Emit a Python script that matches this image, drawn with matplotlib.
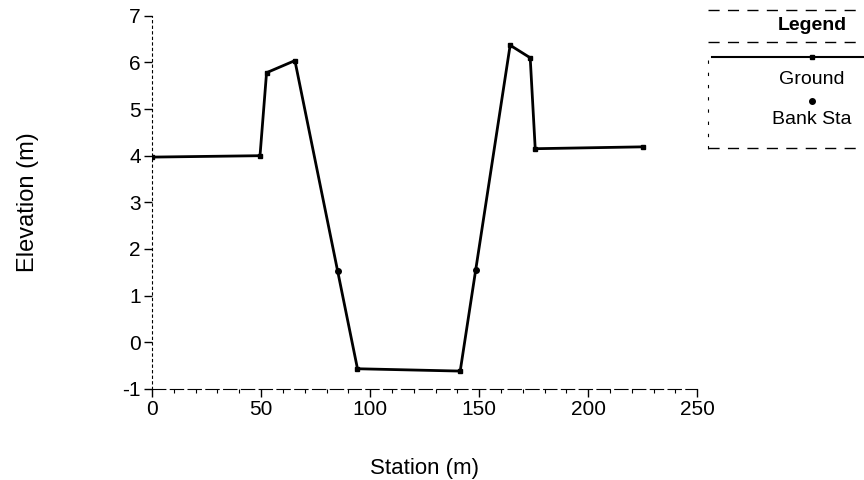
import matplotlib
matplotlib.use('Agg')
import matplotlib.pyplot as plt
from matplotlib.lines import Line2D
from matplotlib.ticker import MultipleLocator

plt.rcParams['font.family'] = ['Liberation Sans', 'DejaVu Sans']
plt.rcParams['axes.unicode_minus'] = False

# cross-section ground points (station m, elevation m)
station = [0, 49.5, 52.5, 65.5, 94.2, 141.3, 164.2, 173.4, 175.7, 225.0]
elevation = [3.97, 4.0, 5.78, 6.04, -0.57, -0.62, 6.37, 6.10, 4.15, 4.19]

# bank stations
bank_station = [85.1, 148.4]
bank_elev = [1.53, 1.55]

xticks = [0, 50, 100, 150, 200, 250]
yticks = [-1, 0, 1, 2, 3, 4, 5, 6, 7]

fig = plt.figure(figsize=(8.64, 4.8), dpi=100)
ax = fig.add_axes([0.176, 0.19, 0.631, 0.777])

ax.plot(station, elevation, color='black', linewidth=2, marker='s', markersize=3)
ax.plot(bank_station, bank_elev, linestyle='none', color='black', marker='o', markersize=4)

ax.set_xlim(0, 250)
ax.set_ylim(-1, 7)
ax.set_xticks(xticks)
ax.set_yticks(yticks)
ax.xaxis.set_minor_locator(MultipleLocator(10))
ax.tick_params(axis='both', which='major', direction='out', length=6, width=1, labelsize=15, pad=2)
ax.tick_params(axis='x', which='minor', direction='out', length=3, width=0.8)

ax.spines['top'].set_visible(False)
ax.spines['right'].set_visible(False)
ax.spines['bottom'].set_linestyle((0, (12, 4)))
ax.spines['left'].set_linestyle((0, (2, 3)))

ax.set_xlabel('Station (m)', fontsize=16, labelpad=28)
ax.set_ylabel('Elevation (m)', fontsize=17, labelpad=60)

# legend panel, drawn outside the axes
x0, x1 = 708 / 864, 1.0
def fy(p):
    return 1 - p / 480

dash = (0, (8, 6))
for yy in [10, 42, 148]:
    fig.add_artist(Line2D([x0, x1], [fy(yy), fy(yy)], color='black', lw=1, linestyle=dash))
fig.add_artist(Line2D([x0, x0], [fy(60), fy(150)], color='black', lw=0.8, linestyle=(0, (3, 8))))
fig.add_artist(Line2D([712 / 864, x1], [fy(57), fy(57)], color='black', lw=1.5))
fig.add_artist(Line2D([812 / 864], [fy(57)], color='black', marker='s', markersize=3))
fig.add_artist(Line2D([812 / 864], [fy(101)], color='black', marker='o', markersize=4))
fig.text(812 / 864, fy(26), 'Legend', ha='center', va='center', fontsize=14, fontweight='bold')
fig.text(812 / 864, fy(80), 'Ground', ha='center', va='center', fontsize=14)
fig.text(812 / 864, fy(119), 'Bank Sta', ha='center', va='center', fontsize=14)

plt.savefig('out.png', dpi=100)
